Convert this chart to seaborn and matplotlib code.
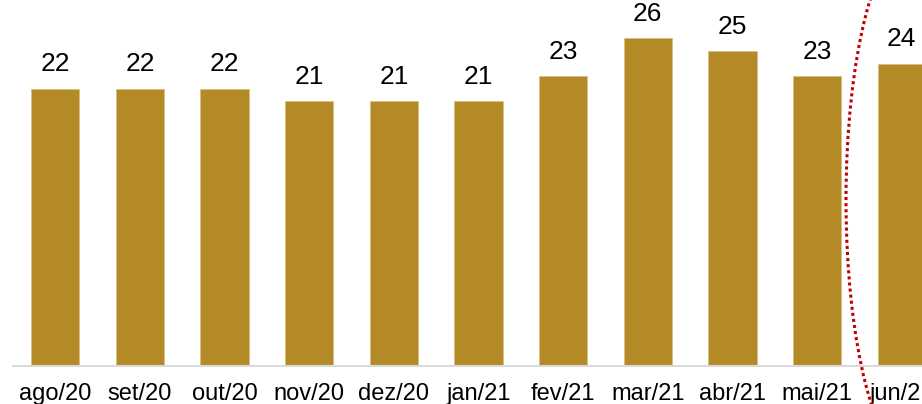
import matplotlib
matplotlib.use("Agg")
import matplotlib.pyplot as plt
from matplotlib.patches import Ellipse
import seaborn as sns
import pandas as pd

months = ["ago/20", "set/20", "out/20", "nov/20", "dez/20", "jan/21",
          "fev/21", "mar/21", "abr/21", "mai/21", "jun/21"]
values = [22, 22, 22, 21, 21, 21, 23, 26, 25, 23, 24]

df = pd.DataFrame({"mes": months, "valor": values})

sns.set_theme(style="white")
plt.rcParams["font.family"] = ["Liberation Sans", "DejaVu Sans"]

fig = plt.figure(figsize=(9.22, 4.04), dpi=100)
ax = fig.add_axes([13 / 922, 38 / 404, 1 - 13 / 922, 366 / 404])

sns.barplot(data=df, x="mes", y="valor", color="#b38a25", saturation=1,
            width=0.57, edgecolor="#d9bf80", linewidth=0.6, ax=ax)
ax.bar_label(ax.containers[0], fmt="%d", padding=9, fontsize=19, color="black")

ax.set_xlim(-0.5, 10.24)
ax.set_ylim(0, 29.05)
ax.set_xlabel("")
ax.set_ylabel("")
ax.set_yticks([])
ax.tick_params(axis="x", length=0, pad=12, labelsize=17, colors="black")
for s in ["top", "left", "right"]:
    ax.spines[s].set_visible(False)
ax.spines["bottom"].set_color("#d9d9d9")
ax.spines["bottom"].set_linewidth(1.5)

# red dotted ellipse highlighting the last month
ell = Ellipse((914 / 922, 1 - 200 / 404), 2 * 68 / 922, 2 * 262 / 404,
              transform=fig.transFigure, fill=False, edgecolor="#c00000",
              linestyle=(0, (1, 1)), linewidth=2.2)
fig.patches.append(ell)

fig.savefig("out.png", dpi=100)
plt.close(fig)
